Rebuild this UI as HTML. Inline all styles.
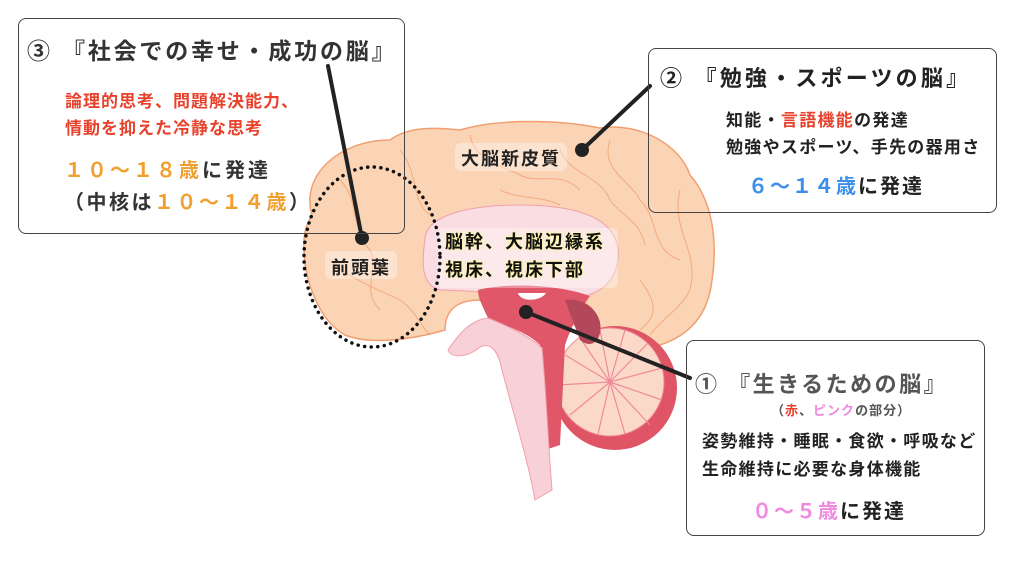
<!DOCTYPE html>
<html><head><meta charset="utf-8"><style>
html,body{margin:0;padding:0;background:#fff;}
body{width:1024px;height:576px;position:relative;overflow:hidden;font-family:"Liberation Sans","Noto Sans CJK JP",sans-serif;font-weight:bold;}
.t{position:absolute;white-space:nowrap;}
.box{position:absolute;border:1.5px solid #444;border-radius:8px;box-sizing:border-box;}
</style></head><body>
<svg width="1024" height="576" style="position:absolute;left:0;top:0">
<!-- cortex -->
<path d="M312,215 C300,175 340,140 390,140 C410,125 440,128 460,130 C500,118 560,120 600,128 C640,122 680,145 690,175 C712,200 718,240 712,280 C708,315 690,335 660,345 C630,350 610,340 590,330 C560,320 530,310 480,300 C455,300 445,312 445,330 C410,340 370,345 345,335 C318,320 305,280 304,250 C303,235 306,225 312,215 Z" fill="#fbd4b6" stroke="#f0a070" stroke-width="1.5"/>
<g fill="none" stroke="#f0a070" stroke-width="1" opacity="0.8">
<path d="M340,180 C360,200 350,230 370,250 C380,270 360,290 380,310"/>
<path d="M400,150 C420,175 410,200 430,215"/>
<path d="M470,135 C475,160 500,165 520,175 C540,185 560,170 580,190"/>
<path d="M610,140 C600,170 630,180 640,200 C660,220 650,250 680,260"/>
<path d="M680,190 C670,230 700,250 690,290 C680,310 660,320 650,335"/>
<path d="M330,260 C350,280 380,290 400,300 C415,310 420,325 430,335"/>
<path d="M560,150 C570,175 600,175 610,200 C620,215 640,220 645,245"/>
<path d="M500,190 C520,200 540,195 560,205"/>
<path d="M640,280 C655,300 660,315 640,330"/>
</g>
<!-- limbic -->
<path d="M425,240 C425,215 470,205 520,205 C570,205 615,215 618,250 C620,280 600,300 560,298 C520,296 470,290 440,290 C420,285 422,260 425,240 Z" fill="#f9dde2" stroke="#f0a0a8" stroke-width="1"/>
<!-- cerebellum -->
<circle cx="615" cy="388" r="62" fill="#e05566"/>
<circle cx="610" cy="382" r="54" fill="#fbd9c8" stroke="#f08a98" stroke-width="1"/>
<g stroke="#f08a98" stroke-width="1.2" fill="none">
<path d="M610,382 L580,338 M610,382 L600,330 M610,382 L625,330 M610,382 L648,343 M610,382 L662,368 M610,382 L662,400 M610,382 L650,425 M610,382 L625,434 M610,382 L598,434 M610,382 L570,415 M610,382 L558,385 M610,382 L565,355"/>
</g>
<!-- red core -->
<path d="M478,290 C510,282 560,285 590,296 C580,310 572,325 565,345 L560,445 L545,450 L540,345 C525,330 500,325 488,318 C482,305 478,298 478,290 Z" fill="#e0576a"/>
<path d="M565,300 C580,298 595,305 600,322 C603,340 592,350 580,340 Z" fill="#b3485a"/>
<!-- brainstem pink -->
<path d="M488,318 C470,320 458,335 448,350 C452,360 470,356 480,347 C490,342 498,350 502,370 C515,420 528,460 535,500 L552,490 C548,440 546,390 542,348 C528,335 505,325 488,318 Z" fill="#f7d0d8" stroke="#f0a0a8" stroke-width="1"/>
<path d="M518,293 C520,302 540,302 546,293 Z" fill="#fff"/>
<!-- label bgs -->
<rect x="455" y="143" width="112" height="28" rx="6" fill="#fff" opacity="0.35"/>
<rect x="325" y="251" width="72" height="28" rx="6" fill="#fff" opacity="0.35"/>
<rect x="438" y="228" width="180" height="60" rx="6" fill="#fff" opacity="0.35"/>
<!-- dotted ellipse -->
<ellipse cx="372" cy="257" rx="68" ry="90" fill="none" stroke="#111" stroke-width="3.5" stroke-dasharray="0.1 6.5" stroke-linecap="round"/>
<!-- connectors -->
<g stroke="#222" stroke-width="4" stroke-linecap="round">
<line x1="328" y1="66" x2="362" y2="238"/>
<line x1="650" y1="86" x2="582" y2="150"/>
<line x1="526" y1="312" x2="690" y2="378"/>
</g>
<circle cx="362" cy="238" r="7" fill="#222"/>
<circle cx="582" cy="150" r="7" fill="#222"/>
<circle cx="526" cy="312" r="7" fill="#222"/>
</svg>

<div class="t" style="left:461px;top:145px;font-size:18px;letter-spacing:2px;color:#222">大脳新皮質</div>
<div class="t" style="left:331px;top:254px;font-size:18px;letter-spacing:2px;color:#222">前頭葉</div>
<div class="t" style="left:445px;top:228px;font-size:18px;letter-spacing:2px;color:#111;line-height:28px;text-shadow:0 0 3px #fff7a0,0 0 3px #fff7a0">脳幹、大脳辺縁系<br>視床、視床下部</div>

<div class="box" style="left:18px;top:18px;width:387px;height:216px"></div>
<div class="t" style="left:27px;top:32px;font-size:23px;color:#333;letter-spacing:2.8px">③&nbsp;『社会での幸せ・成功の脳』</div>
<div class="t" style="left:65px;top:88px;font-size:17px;color:#e8412c;line-height:27px;letter-spacing:1px">論理的思考、問題解決能力、<br>情動を抑えた冷静な思考</div>
<div class="t" style="left:64px;top:154px;font-size:20px;color:#333;letter-spacing:3px"><span style="color:#f0a030">１０～１８歳</span>に発達</div>
<div class="t" style="left:64px;top:186px;font-size:20px;color:#333;letter-spacing:2.5px">（中核は<span style="color:#f0a030">１０～１４歳</span>）</div>

<div class="box" style="left:648px;top:48px;width:349px;height:165px"></div>
<div class="t" style="left:660px;top:61px;font-size:22px;color:#222;letter-spacing:3.2px">②&nbsp;『勉強・スポーツの脳』</div>
<div class="t" style="left:726px;top:107px;font-size:17px;color:#222;line-height:27px;letter-spacing:1.3px">知能・<span style="color:#e8412c">言語機能</span>の発達<br>勉強やスポーツ、手先の器用さ</div>
<div class="t" style="left:748px;top:170px;font-size:20px;color:#222;letter-spacing:2px"><span style="color:#3c8fe8">６～１４歳</span>に発達</div>

<div class="box" style="left:686px;top:340px;width:299px;height:196px"></div>
<div class="t" style="left:695px;top:367px;font-size:22px;color:#555;letter-spacing:2.5px">①&nbsp;『生きるための脳』</div>
<div class="t" style="left:771px;top:400px;font-size:13px;color:#555;letter-spacing:1px">（<span style="color:#e8412c">赤</span>、<span style="color:#f08ae0">ピンク</span>の部分）</div>
<div class="t" style="left:702px;top:428px;font-size:17px;color:#222;line-height:28px;letter-spacing:1.3px">姿勢維持・睡眠・食欲・呼吸など<br>生命維持に必要な身体機能</div>
<div class="t" style="left:752px;top:495px;font-size:20px;color:#222;letter-spacing:2px"><span style="color:#f08ae0">０～５歳</span>に発達</div>
</body></html>
